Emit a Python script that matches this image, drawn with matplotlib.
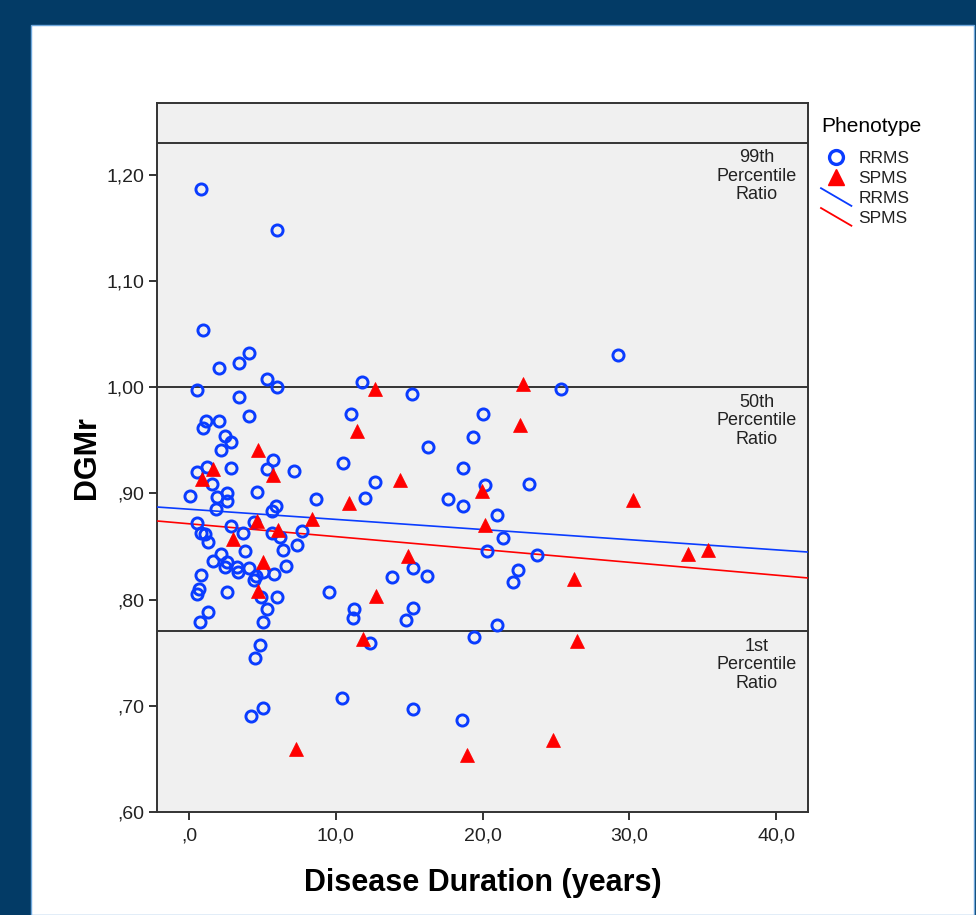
import matplotlib
matplotlib.use("Agg")
import matplotlib.pyplot as plt
from matplotlib.patches import Rectangle
from matplotlib.lines import Line2D
from matplotlib.legend_handler import HandlerBase
from matplotlib.ticker import FuncFormatter, FixedLocator
import numpy as np

plt.rcParams['font.family'] = ['Liberation Sans', 'DejaVu Sans']

# RRMS patients: disease duration (years) and DGMr
rrms_duration = [0.82, 5.98, 0.98, 2.04, 3.39, 4.09, 0.52, 5.29, 6.02, 11.79, 15.17,
                 3.43, 4.11, 11.04, 1.16, 0.93, 2.07, 2.45, 2.84, 2.16, 19.36, 16.26,
                 5.70, 5.29, 10.52, 7.18, 18.65, 2.84, 0.57, 1.20, 1.59, 2.57, 2.61,
                 1.89, 0.07, 4.66, 1.82, 12.67, 11.99, 8.65, 17.67, 18.69, 5.93, 5.63,
                 0.57, 0.80, 1.09, 1.32, 2.84, 3.66, 4.43, 5.63, 6.20, 6.38, 7.34,
                 7.68, 3.82, 2.16, 1.61, 2.61, 2.45, 3.29, 3.36, 4.11, 6.61, 4.57,
                 5.06, 5.81, 4.43, 0.80, 0.70, 0.52, 2.57, 9.56, 4.91, 5.98, 5.34,
                 5.02, 1.32, 0.75, 13.85, 15.29, 16.24, 11.24, 11.15, 15.29, 14.79,
                 19.40, 4.84, 12.33, 4.50, 10.40, 5.06, 4.22, 15.29, 18.60, 29.26,
                 25.33, 20.01, 20.17, 23.19, 21.01, 21.37, 20.33, 23.74, 22.44, 22.06,
                 21.02]
rrms_dgmr = [1.187, 1.148, 1.054, 1.018, 1.023, 1.032, 0.997, 1.008, 1.000, 1.005, 0.994,
             0.991, 0.973, 0.975, 0.968, 0.962, 0.968, 0.954, 0.948, 0.941, 0.953, 0.944,
             0.931, 0.923, 0.929, 0.921, 0.924, 0.924, 0.920, 0.925, 0.909, 0.900, 0.893,
             0.897, 0.898, 0.901, 0.885, 0.911, 0.896, 0.895, 0.895, 0.888, 0.888, 0.883,
             0.872, 0.863, 0.862, 0.854, 0.869, 0.863, 0.873, 0.863, 0.859, 0.847, 0.851,
             0.865, 0.846, 0.843, 0.836, 0.835, 0.831, 0.831, 0.826, 0.830, 0.832, 0.822,
             0.826, 0.824, 0.818, 0.823, 0.810, 0.805, 0.807, 0.807, 0.802, 0.802, 0.791,
             0.779, 0.788, 0.779, 0.821, 0.830, 0.822, 0.791, 0.783, 0.792, 0.781,
             0.765, 0.757, 0.759, 0.745, 0.707, 0.698, 0.690, 0.697, 0.687, 1.030,
             0.998, 0.975, 0.908, 0.909, 0.880, 0.858, 0.846, 0.842, 0.828, 0.817,
             0.776]

# SPMS patients
spms_duration = [12.67, 11.47, 4.72, 1.61, 0.87, 5.70, 14.38, 10.92, 8.36, 4.61,
                 6.09, 2.98, 14.94, 5.06, 12.74, 4.72, 11.88, 7.29, 18.96, 22.78,
                 22.56, 19.95, 30.23, 20.17, 35.39, 34.03, 26.26, 26.42, 24.83]
spms_dgmr = [0.998, 0.959, 0.941, 0.923, 0.914, 0.917, 0.913, 0.891, 0.876, 0.874,
             0.866, 0.857, 0.841, 0.835, 0.803, 0.808, 0.763, 0.659, 0.654, 1.003,
             0.964, 0.902, 0.894, 0.870, 0.847, 0.843, 0.819, 0.761, 0.668]

# fit lines (intercept, slope)
rrms_fit = [0.8851, -0.000956]
spms_fit = [0.8714, -0.00121]

# percentile reference lines
ref_values = [1.23, 1.00, 0.77]
ref_labels = ["99th\nPercentile\nRatio", "50th\nPercentile\nRatio", "1st\nPercentile\nRatio"]

xticks = [0, 10, 20, 30, 40]
yticks = [0.60, 0.70, 0.80, 0.90, 1.00, 1.10, 1.20]

blue = '#0a3cff'
red = '#ff0000'
dark = '#333333'

W, H = 976, 915
fig = plt.figure(figsize=(W / 100, H / 100), dpi=100)
fig.patch.set_facecolor('#033b66')
fig.add_artist(Rectangle((31 / W, 0), (974 - 31) / W, (H - 25) / H,
                         transform=fig.transFigure, facecolor='white',
                         edgecolor='#6fa8dc', lw=1.0, zorder=0))

ax = fig.add_axes([157 / W, 1 - 812 / H, 651 / W, 709 / H])
ax.set_facecolor('#f0f0f0')
ax.set_xlim(-2.18, 42.18)
ax.set_ylim(0.60, 1.2676)

for v, lab in zip(ref_values, ref_labels):
    ax.axhline(v, color=dark, lw=1.4, zorder=1)
    ax.text(38.7, v - 0.006, lab, ha='center', va='top', fontsize=13,
            linespacing=1.12, color='#222222', zorder=2)

xs = np.array(ax.get_xlim())
ax.plot(xs, rrms_fit[0] + rrms_fit[1] * xs, color=blue, lw=1.2, zorder=3)
ax.plot(xs, spms_fit[0] + spms_fit[1] * xs, color=red, lw=1.2, zorder=3)

ax.plot(rrms_duration, rrms_dgmr, 'o', ms=8, mfc='none', mec=blue, mew=2.1, zorder=4)
ax.plot(spms_duration, spms_dgmr, '^', ms=10, mfc=red, mec=red, mew=0.5, zorder=5)

for s in ax.spines.values():
    s.set_color(dark)
    s.set_linewidth(1.4)

ax.xaxis.set_major_locator(FixedLocator(xticks))
ax.yaxis.set_major_locator(FixedLocator(yticks))


def fmt_x(v, pos):
    s = f"{v:.1f}".replace('.', ',')
    return s[1:] if s.startswith('0') else s


def fmt_y(v, pos):
    s = f"{v:.2f}".replace('.', ',')
    return s[1:] if s.startswith('0') else s


ax.xaxis.set_major_formatter(FuncFormatter(fmt_x))
ax.yaxis.set_major_formatter(FuncFormatter(fmt_y))
ax.tick_params(direction='out', length=6, width=1.4, color=dark,
               labelsize=14, labelcolor='#222222', pad=3)
ax.tick_params(axis='x', pad=5)

ax.set_xlabel('Disease Duration (years)', fontsize=22, fontweight='bold', labelpad=17)
ax.set_ylabel('DGMr', fontsize=22, fontweight='bold', labelpad=3)


class DiagHandler(HandlerBase):
    def create_artists(self, legend, orig, xd, yd, width, height, fontsize, trans):
        ln = Line2D([-xd, width - xd], [height - yd + 2, -yd - 2],
                    color=orig.get_color(), lw=orig.get_linewidth(), transform=trans)
        return [ln]


h_circ = Line2D([], [], ls='none', marker='o', ms=10, mfc='none', mec=blue, mew=2.4)
h_tri = Line2D([], [], ls='none', marker='^', ms=12, mfc=red, mec=red)
h_lb = Line2D([], [], color=blue, lw=1.3)
h_lr = Line2D([], [], color=red, lw=1.3)

leg = fig.legend([h_circ, h_tri, h_lb, h_lr], ['RRMS', 'SPMS', 'RRMS', 'SPMS'],
                 handler_map={h_lb: DiagHandler(), h_lr: DiagHandler()},
                 loc='upper left', bbox_to_anchor=(821 / W, 1 - 117 / H),
                 frameon=False, fontsize=12.5, title='Phenotype', title_fontsize=15,
                 handlelength=1.75, handletextpad=0.4, labelspacing=0.27,
                 borderpad=0, borderaxespad=0)
leg._legend_box.align = 'left'
leg._legend_box.sep = 11
# nudge the entry rows right so the handles sit under the title like the original
leg._legend_handle_box.set_offset(lambda w, h, xd, yd, r: (4, 0))
for t in leg.get_texts():
    t.set_color('#222222')

fig.savefig('out.png', dpi=100, facecolor=fig.get_facecolor())
